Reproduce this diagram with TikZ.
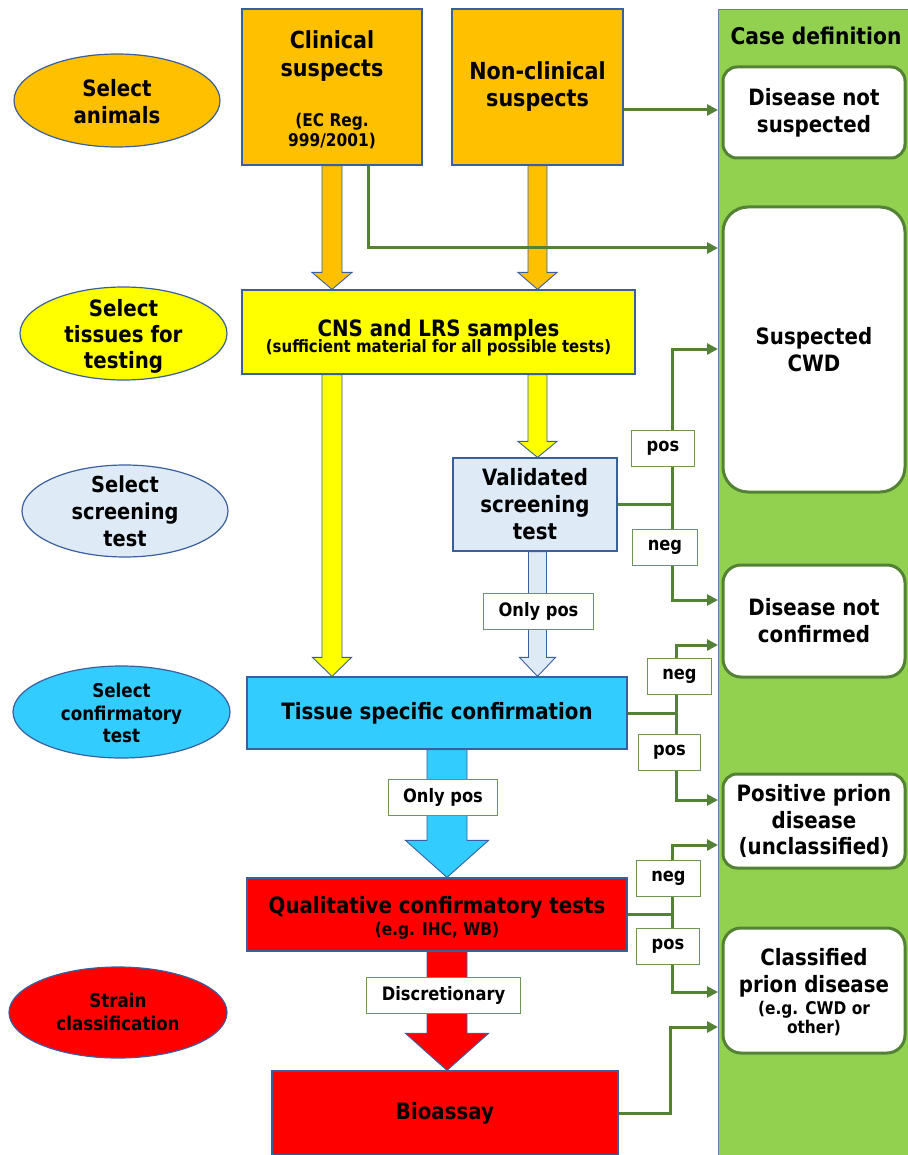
\documentclass[tikz,border=0pt]{standalone}
\usepackage{fontspec}
\setmainfont{DejaVu Sans}[FakeStretch=0.88]
\usetikzlibrary{shapes.geometric,arrows.meta,calc}

\definecolor{cOrange}{HTML}{FFC000}
\definecolor{cYellow}{HTML}{FFFF00}
\definecolor{cPale}{HTML}{DEEBF7}
\definecolor{cCyan}{HTML}{33CCFF}
\definecolor{cRed}{HTML}{FF0000}
\definecolor{cGreen}{HTML}{92D050}
\definecolor{cLine}{HTML}{548235}
\definecolor{cEdge}{HTML}{3A5F9E}

\newcommand{\txtsize}[2]{\fontsize{#1}{#2}\selectfont\bfseries}
% block arrow: fill, from, to, shaft half width, head half width, head length
\newcommand{\fatarrow}[6]{%
  \filldraw[fat,fill=#1] ($(#2)+(-#4,0)$) -- ($(#3)+(-#4,-#6)$) -- ($(#3)+(-#5,-#6)$) -- (#3)
    -- ($(#3)+(#5,-#6)$) -- ($(#3)+(#4,-#6)$) -- ($(#2)+(#4,0)$) -- cycle;}

\begin{document}
\begin{tikzpicture}[x=1pt,y=-1pt,
  box/.style={draw=cEdge,line width=1.2pt,inner sep=0pt,align=center},
  oval/.style={ellipse,draw=cEdge,line width=1.2pt,inner sep=0pt},
  txt/.style={align=center,inner sep=0pt},
  case/.style={draw=cLine,line width=3pt,fill=white,rounded corners=14pt,align=center,
    inner sep=0pt,minimum width=182pt,font=\txtsize{22.5}{27}},
  tag/.style={draw=cLine!85,line width=0.9pt,fill=white,minimum height=36pt,
    inner xsep=15pt,inner ysep=0pt,font=\txtsize{18.5}{22}},
  link/.style={draw=cLine,line width=3pt,-{Triangle[length=11pt,width=11pt]}},
  fat/.style={draw=cEdge,line width=0.9pt}]
	\useasboundingbox (0,0) rectangle (907,1155);

	% case definition column
	\node[draw=cEdge!80,line width=0.8pt,fill=cGreen,minimum width=200pt,minimum height=1160pt,
	  inner sep=0pt,anchor=north west] (col) at (718,9) {};
	\node[txt,font=\txtsize{23}{27}] (casedef) at (816,35.5) {Case definition};
	\node[case,minimum height=91pt] (notsus) at (814,112.5) {Disease not\\suspected};
	\node[case,rounded corners=25pt,minimum height=285pt] (cwd) at (814,349.5) {Suspected\\CWD};
	\node[case,rounded corners=18pt,minimum height=112pt] (notconf) at (814,621) {Disease not\\confirmed};
	\node[case,minimum height=94pt,font=\txtsize{22.5}{26.5}] (posprion) at (814,821) {Positive prion\\disease\\(unclassified)};
	\node[case,rounded corners=18pt,minimum height=125pt] (classif) at (814,990.5) {};
	\node[txt,font=\txtsize{22.5}{27}] (classifA) at (814,972.6) {Classified\\prion disease};
	\node[txt,font=\txtsize{17.5}{19}] (classifB) at (814,1019) {(e.g. CWD or\\other)};

	% steps on the left
	\node[oval,fill=cOrange,minimum width=206pt,minimum height=93pt] (animals) at (117,100.5) {};
	\node[txt,font=\txtsize{22.5}{27}] (animalsT) at (117,102) {Select\\animals};
	\node[oval,fill=cYellow,minimum width=207pt,minimum height=93pt] (tissues) at (123.5,333.5) {};
	\node[txt,font=\txtsize{22.5}{26}] (tissuesT) at (123.5,336) {Select\\tissues for\\testing};
	\node[oval,fill=cPale,minimum width=206pt,minimum height=92pt] (screen) at (125,511) {};
	\node[txt,font=\txtsize{22}{27}] (screenT) at (125,511.7) {Select\\screening\\test};
	\node[oval,fill=cCyan,minimum width=217pt,minimum height=92pt] (confirm) at (121.5,712) {};
	\node[txt,font=\txtsize{19}{22.5}] (confirmT) at (121.5,713.3) {Select\\confirmatory\\test};
	\node[oval,fill=cRed,minimum width=218pt,minimum height=91pt] (strain) at (118,1012.5) {};
	\node[txt,font=\txtsize{19}{23}] (strainT) at (118,1012.3) {Strain\\classification};

	% flow boxes
	\node[box,fill=cOrange,minimum width=180pt,minimum height=156pt] (clin) at (332,87) {};
	\node[txt,font=\txtsize{23.5}{28}] (clinT) at (332,56) {Clinical\\suspects};
	\node[txt,font=\txtsize{17.5}{20}] (clinR) at (332,131.5) {(EC Reg.\\999/2001)};
	\node[box,fill=cOrange,minimum width=171pt,minimum height=156pt,font=\txtsize{23.5}{27}] (noncl) at (537.5,87) {Non-clinical\\suspects};
	\node[box,fill=cYellow,minimum width=393pt,minimum height=84pt] (cns) at (438.5,332) {};
	\node[txt,font=\txtsize{22.5}{27}] (cnsT) at (438.5,330) {CNS and LRS samples};
	\node[txt,font=\txtsize{17}{20}] (cnsS) at (438.5,347.6) {(sufficient material for all possible tests)};
	\node[box,fill=cPale,minimum width=164pt,minimum height=93pt,font=\txtsize{22.5}{27}] (valid) at (535,504.5) {Validated\\screening\\test};
	\node[box,fill=cCyan,minimum width=380pt,minimum height=72pt,font=\txtsize{22.5}{27}] (tissue) at (437,713) {Tissue specific confirmation};
	\node[box,fill=cRed,minimum width=380pt,minimum height=73pt] (qual) at (437,914.5) {};
	\node[txt,font=\txtsize{22.5}{27}] (qualT) at (437,907) {Qualitative confirmatory tests};
	\node[txt,font=\txtsize{17.5}{20}] (qualS) at (437,930.4) {(e.g. IHC, WB)};
	\node[box,fill=cRed,minimum width=346pt,minimum height=84pt,font=\txtsize{22.5}{27}] (bio) at (445,1113) {Bioassay};

	% block arrows
	\coordinate (spine) at (447,0);
	\fatarrow{cOrange}{clin.south}{clin.south |- cns.north}{10}{20}{17}
	\fatarrow{cOrange}{noncl.south}{noncl.south |- cns.north}{9.5}{19.5}{17}
	\fatarrow{cYellow}{clin.south |- cns.south}{clin.south |- tissue.north}{10}{19.5}{19}
	\fatarrow{cYellow}{noncl.south |- cns.south}{noncl.south |- valid.north}{9.5}{19.5}{16}
	\fatarrow{cPale}{noncl.south |- valid.south}{noncl.south |- tissue.north}{9}{18}{19}
	\fatarrow{cCyan}{spine |- tissue.south}{spine |- qual.north}{20}{41.5}{37}
	\fatarrow{cRed}{spine |- qual.south}{spine |- bio.north}{20}{41.5}{37}

	% outcome links
	\coordinate (inNS) at (718,110);
	\coordinate (inCW1) at (718,248);
	\coordinate (inCW2) at (718,349);
	\coordinate (inNC1) at (718,600);
	\coordinate (inNC2) at (718,645);
	\coordinate (inPP1) at (718,800);
	\coordinate (inPP2) at (718,845);
	\coordinate (inCL1) at (718,992);
	\coordinate (inCL2) at (718,1027);
	\draw[link] ([yshift=-23pt]noncl.east) -- (inNS);
	\draw[link] ([xshift=36pt]clin.south) |- (inCW1);
	\draw[link] (valid.east) -- ++(55,0) |- (inCW2);
	\draw[link] (valid.east) -- ++(55,0) |- (inNC1);
	\draw[link] (tissue.east) -- ++(49,0) |- (inNC2);
	\draw[link] (tissue.east) -- ++(49,0) |- (inPP1);
	\draw[link] (qual.east) -- ++(45,0) |- (inPP2);
	\draw[link] (qual.east) -- ++(45,0) |- (inCL1);
	\draw[link] (bio.east) -- ++(52,0) |- (inCL2);

	% labels
	\node[tag] (onlyA) at (538.5,611) {Only pos};
	\node[tag] (onlyB) at (443,797) {Only pos};
	\node[tag] (discr) at (443.5,995) {Discretionary};
	\node[tag] (posA) at (663,448) {pos};
	\node[tag] (negA) at (665,547.5) {neg};
	\node[tag] (negB) at (679.5,676.5) {neg};
	\node[tag] (posB) at (669.5,752) {pos};
	\node[tag] (negC) at (668.5,878.5) {neg};
	\node[tag] (posC) at (668,946) {pos};
\end{tikzpicture}
\end{document}
